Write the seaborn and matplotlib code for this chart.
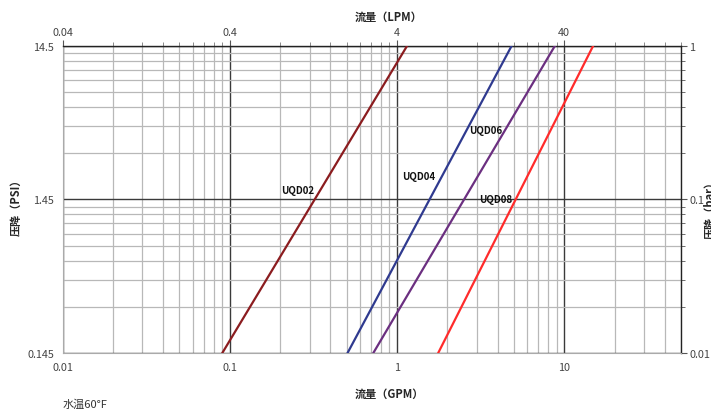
import matplotlib
matplotlib.use("Agg")
import matplotlib.pyplot as plt
import numpy as np
import pandas as pd
import seaborn as sns
from matplotlib.ticker import FixedLocator, NullFormatter, LogLocator

# flow (GPM) where each curve meets the bottom (0.145 PSI) and top (14.5 PSI) edges
models = ["UQD02", "UQD04", "UQD06", "UQD08"]
flow_low = [0.090, 0.505, 0.72, 1.76]
flow_high = [1.15, 4.85, 8.8, 14.9]
psi_ends = [0.145, 14.5]
colors = ["#8b1c1f", "#2f3a8f", "#6b2f80", "#ff2b2b"]

label_flow = [0.255, 1.34, 3.41, 3.92]
label_psi = [1.68, 2.05, 4.08, 1.45]

gpm_ticks = [0.01, 0.1, 1, 10]
gpm_labels = ["0.01", "0.1", "1", "10"]
lpm_ticks = [0.04, 0.4, 4, 40]
lpm_labels = ["0.04", "0.4", "4", "40"]
psi_ticks = [0.145, 1.45, 14.5]
psi_labels = ["0.145", "1.45", "14.5"]
bar_ticks = [0.01, 0.1, 1]
bar_labels = ["0.01", "0.1", "1"]

rows = []
for m, lo, hi in zip(models, flow_low, flow_high):
    rows.append({"model": m, "gpm": lo, "psi": psi_ends[0]})
    rows.append({"model": m, "gpm": hi, "psi": psi_ends[1]})
df = pd.DataFrame(rows)

sns.set_style("white")
plt.rcParams["font.family"] = ["Noto Sans CJK SC", "DejaVu Sans"]

fig = plt.figure(figsize=(7.11, 4.10), dpi=100)
ax = fig.add_axes([0.088, 0.136, 0.870, 0.750])

sns.lineplot(data=df, x="gpm", y="psi", hue="model", palette=colors,
             linewidth=1.6, legend=False, ax=ax, zorder=5)
ax.set_xlabel("")
ax.set_ylabel("")

ax.set_xscale("log")
ax.set_yscale("log")
ax.set_xlim(0.01, 50)
ax.set_ylim(0.145, 14.5)

# grid on GPM decades and on bar (psi/14.5) decades
ax.xaxis.set_major_locator(FixedLocator(gpm_ticks))
ax.xaxis.set_minor_locator(LogLocator(base=10, subs=np.arange(2, 10)))
ax.xaxis.set_minor_formatter(NullFormatter())
ax.set_xticklabels(gpm_labels)
psi_minor = [d * k for d in [0.145, 1.45] for k in range(2, 10)]
ax.yaxis.set_major_locator(FixedLocator(psi_ticks))
ax.yaxis.set_minor_locator(FixedLocator(psi_minor))
ax.yaxis.set_minor_formatter(NullFormatter())
ax.set_yticklabels(psi_labels)

ax.grid(which="minor", color="#b8b8b8", linewidth=0.9)
ax.grid(which="major", color="#3a3a3a", linewidth=1.0)
ax.set_axisbelow(True)

for side in ["left", "bottom"]:
    ax.spines[side].set_color("#aaaaaa")
for side in ["top", "right"]:
    ax.spines[side].set_color("#222222")
    ax.spines[side].set_linewidth(1.0)

tick_kw = dict(labelsize=7.8, labelcolor="#444444", color="#555555", direction="out")
ax.tick_params(which="major", length=4, pad=2, **tick_kw)
ax.tick_params(which="minor", length=3, color="#777777", direction="out")

top = ax.secondary_xaxis("top", functions=(lambda x: x * 4, lambda x: x / 4))
top.xaxis.set_major_locator(FixedLocator(lpm_ticks))
top.xaxis.set_minor_locator(FixedLocator([t * 4 for t in ax.xaxis.get_minorticklocs()]))
top.xaxis.set_minor_formatter(NullFormatter())
top.set_xticklabels(lpm_labels)
top.tick_params(which="major", length=4, pad=2, **tick_kw)
top.tick_params(which="minor", length=3, color="#777777", direction="out")
top.spines["top"].set_visible(False)

right = ax.secondary_yaxis("right", functions=(lambda y: y / 14.5, lambda y: y * 14.5))
right.yaxis.set_major_locator(FixedLocator(bar_ticks))
bar_minor = [d * k for d in [0.01, 0.1] for k in range(2, 10)]
right.yaxis.set_minor_locator(FixedLocator(bar_minor))
right.yaxis.set_minor_formatter(NullFormatter())
right.set_yticklabels(bar_labels)
right.tick_params(which="major", length=4, pad=2, **tick_kw)
right.tick_params(which="minor", length=3, color="#555555", direction="out")
right.spines["right"].set_visible(False)

for m, fx, py in zip(models, label_flow, label_psi):
    ax.text(fx, py, m, fontsize=7, fontweight="bold", color="#111111",
            ha="center", va="center", zorder=6)

fig.text(0.547, 0.958, "流量（LPM）", fontsize=8, fontweight="bold", ha="center", va="center")
fig.text(0.547, 0.037, "流量（GPM）", fontsize=8, fontweight="bold", ha="center", va="center")
fig.text(0.023, 0.50, "压降（PSI）", fontsize=8, fontweight="bold", rotation=90,
         ha="center", va="center")
# the right-hand label runs off the edge in the original as well
fig.text(0.999, 0.495, "压降（bar）", fontsize=8, fontweight="bold", rotation=90,
         ha="center", va="center")
fig.text(0.088, 0.012, "水温60°F", fontsize=8, color="#333333", ha="left", va="center")

fig.savefig("out.png", dpi=100)
